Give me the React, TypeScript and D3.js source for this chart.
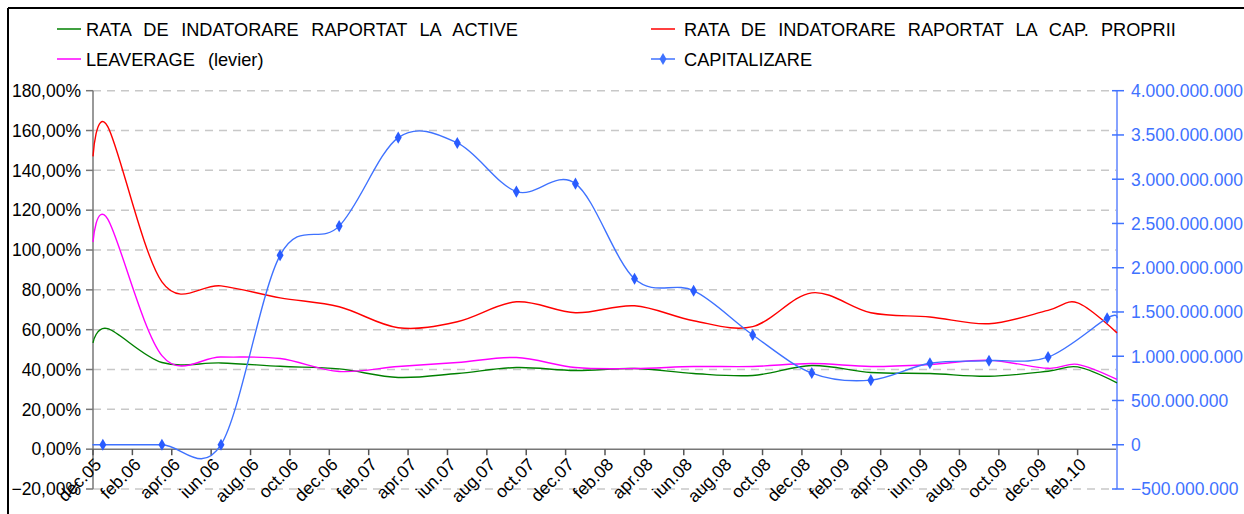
import React from 'react'
import * as d3 from 'd3'

// x axis: months counted from dec.05 (0) to apr.10 (52)
const tickLabels = ['dec.05', 'feb.06', 'apr.06', 'iun.06', 'aug.06', 'oct.06', 'dec.06', 'feb.07', 'apr.07',
  'iun.07', 'aug.07', 'oct.07', 'dec.07', 'feb.08', 'apr.08', 'iun.08', 'aug.08', 'oct.08', 'dec.08',
  'feb.09', 'apr.09', 'iun.09', 'aug.09', 'oct.09', 'dec.09', 'feb.10']

const ratioMonths = [0, 0.75, 3.5, 6.5, 9.5, 12.5, 15.5, 18.5, 21.5, 24.5, 27.5, 30.5, 33.5, 36.5, 39.5, 42.5, 45.5, 48.5, 50, 52]
// percent values
const rataActive = [53.4, 60.5, 43.5, 43.3, 41.6, 40.3, 36, 38, 41, 39.5, 40.5, 38, 37, 42, 38.5, 38, 36.6, 39.1, 41.3, 33.3]
const rataCapProprii = [147, 162, 84, 82, 76, 71.5, 61, 64, 74, 68.5, 72, 64.5, 61.5, 78.5, 68.5, 66.4, 63, 69.7, 73.5, 58.4]
const leverage = [104, 115.5, 47, 46.3, 45.5, 39, 41.5, 43.5, 46, 41, 40.5, 41.5, 41.5, 43, 41.5, 42.5, 44.6, 40.6, 42.6, 35]

const capMonths = [0.5, 3.5, 6.5, 9.5, 12.5, 15.5, 18.5, 21.5, 24.5, 27.5, 30.5, 33.5, 36.5, 39.5, 42.5, 45.5, 48.5, 51.5]
const capitalizare = [0, 0, 0, 2140000000, 2470000000, 3470000000, 3410000000, 2860000000, 2950000000, 1875000000,
  1740000000, 1240000000, 810000000, 730000000, 920000000, 950000000, 990000000, 1430000000]

const leftTicks = [-20, 0, 20, 40, 60, 80, 100, 120, 140, 160, 180]
const rightTicks = [-500000000, 0, 500000000, 1000000000, 1500000000, 2000000000, 2500000000, 3000000000, 3500000000, 4000000000]

const GREEN = '#008000'
const RED = '#ff0000'
const MAGENTA = '#ff00ff'
const BLUE = '#3f72ff'
const FONT = '"Liberation Sans", Arial, Helvetica, sans-serif'

export default function App() {
  const W = 1244, H = 514
  const left = 93, right = 1117, top = 90.7, bottom = 489

  const x = d3.scaleLinear().domain([0, 52]).range([left, right])
  const yL = d3.scaleLinear().domain([-20, 180]).range([bottom, top])
  const yR = d3.scaleLinear().domain([-500000000, 4000000000]).range([bottom, top])

  const roLocale = d3.formatLocale({ decimal: ',', thousands: '.', grouping: [3], currency: ['', ''] })
  const fmtPct = (v: number) => roLocale.format(',.2f')(v) + '%'
  const fmtNum = roLocale.format(',.0f')

  const curve = d3.curveCardinal.tension(0)
  const ratioLine = (vals: number[]) =>
    d3.line<number>().x((_, i) => x(ratioMonths[i])).y(v => yL(v)).curve(curve)(vals) || ''

  // capitalizare line runs flat out to the plot edges
  const capPts: [number, number][] = [[0, capitalizare[0]], ...capMonths.map((m, i) => [m, capitalizare[i]] as [number, number]), [52, capitalizare[capitalizare.length - 1]]]
  const capPath = d3.line<[number, number]>().x(d => x(d[0])).y(d => yR(d[1])).curve(curve)(capPts) || ''

  const diamond = d3.symbol().type(d3.symbolDiamond).size(42)() || ''

  const monthTicks = d3.range(0, 53, 2)

  const legend = [
    { label: 'RATA DE INDATORARE RAPORTAT LA ACTIVE', color: GREEN, lx: 57, tx: 86, y: 29, ws: 7.5, marker: false },
    { label: 'RATA DE INDATORARE RAPORTAT LA CAP. PROPRII', color: RED, lx: 651, tx: 684, y: 29, ws: 7, marker: false },
    { label: 'LEAVERAGE (levier)', color: MAGENTA, lx: 57, tx: 86, y: 59, ws: 8, marker: false },
    { label: 'CAPITALIZARE', color: BLUE, lx: 651, tx: 684, y: 59, ws: 0, marker: true },
  ]

  return (
    <svg width={W} height={H} style={{ position: 'fixed', left: 0, top: 0, background: '#fff' }} fontFamily={FONT}>
      <rect x={0} y={0} width={W} height={H} fill="#fff" />
      {/* chart frame */}
      <line x1={8} x2={W} y1={8} y2={8} stroke="#000" strokeWidth={2} />
      <line x1={8} x2={8} y1={8} y2={H} stroke="#000" strokeWidth={2} />

      {/* legend */}
      {legend.map(l => (
        <g key={l.label}>
          <line x1={l.lx} x2={l.lx + 24} y1={l.y} y2={l.y} stroke={l.color} strokeWidth={1.5} />
          {l.marker && <path d={diamond} transform={`translate(${l.lx + 12},${l.y})`} fill={BLUE} />}
          <text x={l.tx} y={l.y + 6.5} fontSize={18.2} fill="#000" wordSpacing={l.ws}>{l.label}</text>
        </g>
      ))}

      {/* gridlines */}
      {leftTicks.filter(t => t !== 0).map(t => (
        <line key={t} x1={left} x2={right} y1={yL(t)} y2={yL(t)} stroke="#c8c8c8" strokeWidth={1.5} strokeDasharray="8,6" />
      ))}

      {/* left axis */}
      <line x1={left} x2={left} y1={top} y2={bottom} stroke="#777" strokeWidth={1.5} />
      {leftTicks.map(t => (
        <g key={t}>
          <line x1={left - 7} x2={left} y1={yL(t)} y2={yL(t)} stroke="#777" strokeWidth={1.5} />
          <text x={81} y={yL(t)} dy="0.36em" textAnchor="end" fontSize={17.5} fill="#000">{fmtPct(t)}</text>
        </g>
      ))}

      {/* x axis */}
      <line x1={left} x2={right} y1={yL(0)} y2={yL(0)} stroke="#777" strokeWidth={1.5} />
      {monthTicks.map(m => (
        <line key={m} x1={x(m)} x2={x(m)} y1={yL(0)} y2={yL(0) + 6} stroke="#555" strokeWidth={1.5} />
      ))}
      {tickLabels.map((lab, i) => (
        <text key={lab} transform={`translate(${x(i * 2) + 5},${yL(0) + 12}) rotate(-45)`} textAnchor="end"
          dy="0.36em" fontSize={17.5} fill="#000">{lab}</text>
      ))}

      {/* right axis */}
      <line x1={right} x2={right} y1={top} y2={bottom} stroke="#86a2ff" strokeWidth={2} />
      {rightTicks.map(t => (
        <g key={t}>
          <line x1={right - 5} x2={right + 7} y1={yR(t)} y2={yR(t)} stroke={BLUE} strokeWidth={1.5} />
          <text x={1131} y={yR(t)} dy="0.36em" fontSize={17.5} fill={BLUE}>{fmtNum(t)}</text>
        </g>
      ))}

      {/* series */}
      <path d={ratioLine(rataActive)} fill="none" stroke={GREEN} strokeWidth={1.4} />
      <path d={ratioLine(rataCapProprii)} fill="none" stroke={RED} strokeWidth={1.4} />
      <path d={ratioLine(leverage)} fill="none" stroke={MAGENTA} strokeWidth={1.4} />
      <path d={capPath} fill="none" stroke={BLUE} strokeWidth={1.4} />
      {capMonths.map((m, i) => (
        <path key={m} d={diamond} transform={`translate(${x(m)},${yR(capitalizare[i])})`} fill="#2a5cff" />
      ))}
    </svg>
  )
}
